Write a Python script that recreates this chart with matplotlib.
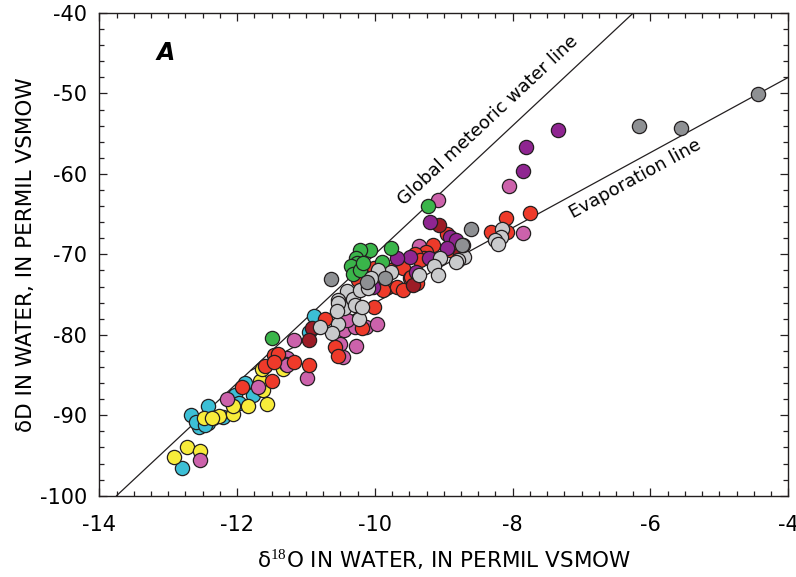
import matplotlib
matplotlib.use("Agg")
import matplotlib.pyplot as plt
from matplotlib.ticker import MultipleLocator

plt.rcParams['font.family'] = ['DejaVu Sans']
plt.rcParams['mathtext.fontset'] = 'custom'
plt.rcParams['mathtext.rm'] = 'Liberation Serif'
plt.rcParams['axes.unicode_minus'] = False

# delta 18O (x) and delta D (y) by group colour
cyan_x = [-12.67, -12.43, -12.56, -12.42, -12.59, -12.21, -12.03, -11.88, -11.77, -11.97, -12.80, -10.89, -10.95, -12.47]
cyan_y = [-90.0, -88.9, -91.4, -91.0, -90.8, -90.2, -87.5, -86.0, -87.5, -88.5, -96.5, -77.7, -79.6, -91.2]

yellow_x = [-12.73, -12.92, -12.54, -12.48, -12.35, -12.27, -12.06, -12.06, -11.84, -11.57, -11.62, -11.67, -11.33, -11.64, -12.37]
yellow_y = [-93.9, -95.2, -94.5, -90.3, -90.3, -90.1, -89.8, -88.9, -88.8, -88.6, -86.8, -85.7, -84.2, -84.3, -90.4]

pink_x = [-11.17, -11.28, -11.29, -11.70, -12.15, -12.54, -10.99, -11.28, -10.45, -10.29, -10.13, -9.97,
          -10.51, -10.27, -10.46, -9.36, -9.09, -8.06, -7.85, -10.41]
pink_y = [-80.7, -82.9, -83.6, -86.5, -88.0, -95.6, -85.4, -83.8, -79.4, -79.0, -79.0, -78.7,
          -81.1, -81.4, -82.7, -69.0, -63.2, -61.5, -67.3, -78.2]

red_x = [-11.46, -11.41, -11.60, -11.46, -11.17, -11.50, -11.93, -10.95, -10.72, -10.58, -10.53, -10.19,
         -10.02, -10.24, -10.02, -9.78, -9.59, -9.49, -9.39, -9.83, -9.68, -9.59, -9.15, -9.26, -9.29,
         -8.95, -8.32, -8.09, -8.10, -7.75, -9.88, -9.97, -9.42, -9.35, -9.47, -8.91]
red_y = [-82.5, -82.4, -83.9, -83.4, -83.4, -85.7, -86.5, -83.8, -78.0, -81.5, -82.6, -79.2,
         -76.6, -73.2, -71.7, -71.9, -71.7, -73.0, -73.6, -74.0, -74.0, -74.4, -68.8, -69.7, -70.5,
         -67.5, -67.2, -67.2, -65.5, -64.9, -74.4, -73.0, -69.9, -70.7, -72.8, -69.5]

darkred_x = [-10.92, -10.95, -9.07, -9.45, -8.76]
darkred_y = [-79.2, -80.7, -66.4, -73.8, -69.9]

purple_x = [-9.20, -8.91, -8.82, -8.95, -9.21, -9.49, -9.68, -9.40, -10.03, -7.34, -7.80, -7.85]
purple_y = [-66.0, -67.9, -68.2, -69.2, -70.5, -70.3, -70.5, -72.2, -74.0, -54.6, -56.7, -59.7]

green_x = [-11.50, -9.23, -10.07, -10.21, -10.27, -10.26, -10.34, -10.32, -10.22, -9.77, -9.90, -10.17]
green_y = [-80.4, -64.0, -69.4, -69.5, -70.4, -71.1, -71.5, -72.4, -71.9, -69.2, -70.9, -71.1]

lgray_x = [-10.40, -10.53, -10.45, -10.32, -10.22, -10.10, -10.23, -10.53, -10.63, -10.80, -10.53,
           -10.29, -10.19, -10.55, -9.06, -9.14, -8.71, -8.80, -9.36, -9.09, -9.76, -9.95, -8.15,
           -8.17, -8.26, -8.21, -8.82, -8.72, -10.05]
lgray_y = [-74.6, -75.7, -76.7, -75.5, -74.4, -74.2, -78.0, -78.6, -79.8, -79.0, -76.1,
           -76.3, -76.5, -77.1, -70.5, -71.4, -70.3, -70.7, -72.6, -72.6, -72.2, -71.9, -66.8,
           -67.8, -68.2, -68.7, -70.9, -68.8, -73.0]

dgray_x = [-10.64, -8.61, -8.73, -6.17, -5.55, -4.44, -10.12, -9.85]
dgray_y = [-73.1, -66.8, -68.8, -54.0, -54.3, -50.1, -73.4, -73.0]

# global meteoric water line dD = 8*d18O + 10, evaporation line
gmwl_x = [-13.75, -6.25]
evap_slope = 4.67
evap_x = [-11.79, -4.0]
evap_ref = (-4.02, -48.1)

fig = plt.figure(figsize=(7.96, 5.77), dpi=100)
ax = fig.add_axes([0.1248, 0.1409, 0.8655, 0.8366])

ax.plot(gmwl_x, [8 * x + 10 for x in gmwl_x], color='#231f20', lw=0.9, zorder=1)
ax.plot(evap_x, [evap_ref[1] + evap_slope * (x - evap_ref[0]) for x in evap_x],
        color='#231f20', lw=0.9, zorder=1)

groups = [
    (cyan_x, cyan_y, '#3cbfd6'),
    (yellow_x, yellow_y, '#f8ec3a'),
    (pink_x, pink_y, '#cc62ab'),
    (red_x, red_y, '#ee3a2a'),
    (darkred_x, darkred_y, '#9c1c26'),
    (purple_x, purple_y, '#8f2591'),
    (green_x, green_y, '#3ab54a'),
    (lgray_x, lgray_y, '#c9cacc'),
    (dgray_x, dgray_y, '#8e9093'),
]
for gx, gy, c in groups:
    ax.scatter(gx, gy, s=105, c=c, edgecolors='#231f20', linewidths=0.9, zorder=3)

ax.set_xlim(-14, -4)
ax.set_ylim(-100, -40)
ax.xaxis.set_major_locator(MultipleLocator(2))
ax.xaxis.set_minor_locator(MultipleLocator(0.25))
ax.yaxis.set_major_locator(MultipleLocator(10))
ax.yaxis.set_minor_locator(MultipleLocator(2))
ax.tick_params(which='both', direction='in', top=True, right=True, width=0.9, color='#231f20')
ax.tick_params(which='major', length=6)
ax.tick_params(which='minor', length=3.5)
ax.tick_params(axis='x', which='major', labelsize=15, pad=14)
ax.tick_params(axis='y', which='major', labelsize=15, pad=9)
for sp in ax.spines.values():
    sp.set_linewidth(1.0)
    sp.set_color('#231f20')

ax.set_xlabel('δ$^{18}$O IN WATER, IN PERMIL VSMOW', fontsize=15.5)
ax.set_ylabel('δD IN WATER, IN PERMIL VSMOW', fontsize=15.5)
ax.xaxis.set_label_coords(0.5, -0.108)
ax.yaxis.set_label_coords(-0.092, 0.5)

ax.text(-13.04, -45.0, 'A', fontsize=17, fontweight='bold', fontstyle='italic',
        ha='center', va='center')
ax.text(-8.36, -53.4, 'Global meteoric water line', fontsize=13, rotation=43.1,
        ha='center', va='center')
ax.text(-6.22, -60.6, 'Evaporation line', fontsize=13, rotation=28.6,
        ha='center', va='center')

fig.savefig('out.png', dpi=100)
